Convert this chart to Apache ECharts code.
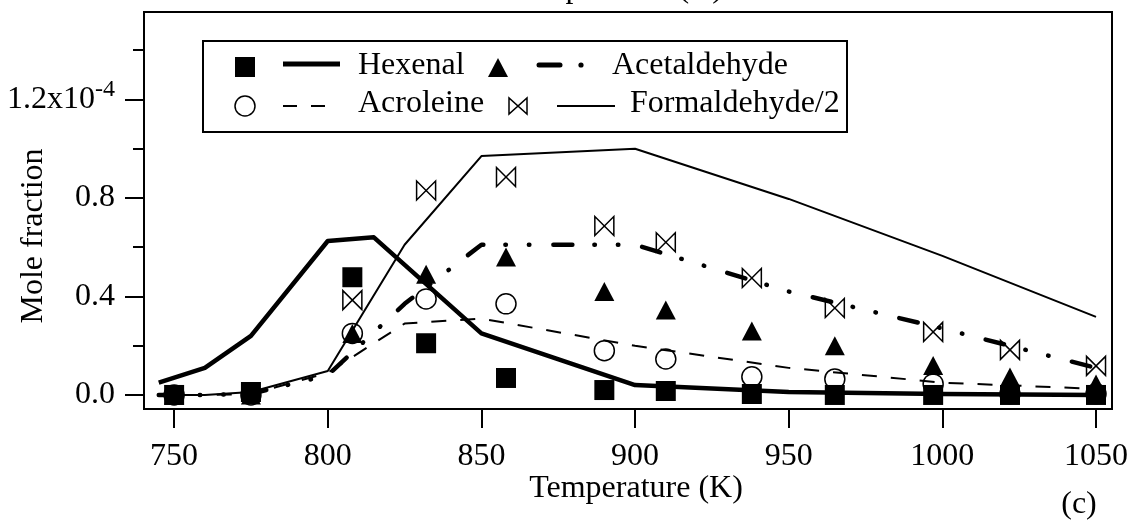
<!DOCTYPE html>
<html><head><meta charset="utf-8">
<script src="https://cdn.jsdelivr.net/npm/echarts@6/dist/echarts.min.js"></script>
<style>html,body{margin:0;padding:0;background:#fff}#c{width:1133px;height:522px}</style>
</head><body><div id="c"></div>
<script>
// Experimental points (mole fraction in units of 1e-4)
const expTemps      = [750, 775, 808, 832, 858, 890, 910, 938, 965, 997, 1022, 1050];
const hexenalExp    = [0.0, 0.012, 0.478, 0.21, 0.069, 0.02, 0.016, 0.004, 0.0, 0.0, 0.0, 0.0];
const acetaldExp    = [0.0, 0.0, 0.25, 0.49, 0.56, 0.42, 0.345, 0.26, 0.20, 0.12, 0.073, 0.045];
const acroleinExp   = [0.0, 0.0, 0.25, 0.39, 0.37, 0.18, 0.146, 0.074, 0.065, 0.045, 0.005, 0.005];
const formaldExp    = [null, null, 0.385, 0.83, 0.885, 0.686, 0.62, 0.475, 0.353, 0.256, 0.183, 0.118];

// Model curves
const hexenalModelT  = [745, 760, 775, 800, 815, 850, 900, 950, 1000, 1050];
const hexenalModel   = [0.05, 0.11, 0.24, 0.625, 0.64, 0.25, 0.04, 0.012, 0.004, 0.0];
const acetaldModelT  = [745, 760, 775, 800, 825, 850, 900, 950, 1000, 1050];
const acetaldModel   = [0.0, 0.0, 0.005, 0.08, 0.37, 0.61, 0.61, 0.42, 0.27, 0.11];
const acroleinModelT = [745, 760, 775, 800, 825, 850, 900, 950, 1000, 1050];
const acroleinModel  = [0.0, 0.0, 0.003, 0.09, 0.29, 0.31, 0.20, 0.11, 0.05, 0.025];
const formaldModelT  = [745, 760, 775, 800, 825, 850, 900, 950, 1000, 1050];
const formaldModel   = [0.0, 0.0, 0.012, 0.097, 0.61, 0.97, 1.0, 0.796, 0.565, 0.317];

const xTickValues  = [750, 800, 850, 900, 950, 1000, 1050];
const yMajorTicks  = [0, 0.4, 0.8, 1.2];
const yMinorTicks  = [0.2, 0.6, 1.0, 1.4];
const seriesNames  = ['Hexenal', 'Acetaldehyde', 'Acroleine', 'Formaldehyde/2'];
const xTitle = 'Temperature (K)';
const yTitle = 'Mole fraction';
const panelLabel = '(c)';

const FONT = 'Liberation Serif';
const zip = (xs, ys) => xs.map((x, i) => [x, ys[i]]).filter(p => p[1] !== null);

const bowtie = 'path://M0,0L0,10L10,0L10,10Z';

const chart = echarts.init(document.getElementById('c'), null, {renderer: 'canvas'});

const lineSeries = (name, xs, ys, width, type, cap) => ({
  name, type: 'line', data: zip(xs, ys), showSymbol: false, symbol: 'none',
  lineStyle: {color: '#000', width, type, cap: cap || 'butt', join: 'round', opacity: 1},
  silent: true, z: 2
});
const scatterSeries = (name, ys, symbol, size, filled, z) => ({
  name, type: 'scatter', data: zip(expTemps, ys), symbol, symbolSize: size,
  itemStyle: filled ? {color: '#000', opacity: 1} : {color: 'rgba(0,0,0,0)', borderColor: '#000', borderWidth: 1.5, opacity: 1},
  silent: true, z
});

const option = {
  animation: false,
  backgroundColor: '#fff',
  grid: {left: 144, right: 21, top: 12, bottom: 113, show: true, borderColor: '#000', borderWidth: 2, backgroundColor: 'transparent'},
  xAxis: {
    type: 'value', min: 740.2, max: 1055.2,
    axisLine: {show: true, onZero: false, lineStyle: {color: '#000', width: 2}},
    axisTick: {show: true, length: 19, lineStyle: {color: '#000', width: 2}, customValues: xTickValues},
    axisLabel: {customValues: xTickValues, color: '#000', fontFamily: FONT, fontSize: 32, margin: 32, formatter: v => String(v)},
    splitLine: {show: false}
  },
  yAxis: [{
    type: 'value', min: -0.057, max: 1.555,
    axisLine: {show: true, onZero: false, lineStyle: {color: '#000', width: 2}},
    axisTick: {show: true, length: 19, lineStyle: {color: '#000', width: 2}, customValues: yMajorTicks},
    axisLabel: {
      customValues: yMajorTicks, color: '#000', fontFamily: FONT, fontSize: 32, margin: 29,
      formatter: v => Math.abs(v - 1.2) < 1e-9 ? '{a|1.2x10}{s|-4}' : v.toFixed(1),
      rich: {
        a: {fontFamily: FONT, fontSize: 32, color: '#000', lineHeight: 44},
        s: {fontFamily: FONT, fontSize: 24, color: '#000', verticalAlign: 'top', lineHeight: 20}
      }
    },
    splitLine: {show: false}
  }, {
    type: 'value', min: -0.057, max: 1.555, position: 'left',
    axisLine: {show: false, onZero: false},
    axisTick: {show: true, length: 11, lineStyle: {color: '#000', width: 2}, customValues: yMinorTicks},
    axisLabel: {show: false},
    splitLine: {show: false}
  }],
  series: [
    lineSeries(seriesNames[3], formaldModelT, formaldModel, 2, 'solid'),
    lineSeries(seriesNames[2], acroleinModelT, acroleinModel, 2, [15, 14]),
    lineSeries(seriesNames[1], acetaldModelT, acetaldModel, 4.5, [19, 22, 0.5, 23, 0.5, 24], 'round'),
    lineSeries(seriesNames[0], hexenalModelT, hexenalModel, 4.5, 'solid'),
    scatterSeries(seriesNames[2], acroleinExp, 'circle', 20, false, 3),
    scatterSeries(seriesNames[3], formaldExp, bowtie, [19, 19], false, 4),
    scatterSeries(seriesNames[1], acetaldExp, 'triangle', [20, 19], true, 5),
    scatterSeries(seriesNames[0], hexenalExp, 'rect', 20, true, 6)
  ],
  graphic: [
    // legend box
    {type: 'rect', shape: {x: 203, y: 41, width: 644, height: 91}, style: {fill: '#fff', stroke: '#000', lineWidth: 2}, z: 10},
    {type: 'rect', shape: {x: 235, y: 57, width: 20, height: 20}, style: {fill: '#000'}, z: 11},
    {type: 'line', shape: {x1: 283, y1: 64, x2: 340, y2: 64}, style: {stroke: '#000', lineWidth: 5}, z: 11},
    {type: 'text', x: 358, y: 66, style: {text: seriesNames[0], fontFamily: FONT, fontSize: 32, fill: '#000', textAlign: 'left', textVerticalAlign: 'middle'}, z: 11},
    {type: 'polygon', shape: {points: [[488, 77], [508, 77], [498, 58]]}, style: {fill: '#000'}, z: 11},
    {type: 'line', shape: {x1: 539, y1: 65, x2: 560, y2: 65}, style: {stroke: '#000', lineWidth: 5, lineCap: 'round'}, z: 11},
    {type: 'circle', shape: {cx: 581, cy: 65, r: 2.6}, style: {fill: '#000'}, z: 11},
    {type: 'text', x: 612, y: 66, style: {text: seriesNames[1], fontFamily: FONT, fontSize: 32, fill: '#000', textAlign: 'left', textVerticalAlign: 'middle'}, z: 11},
    {type: 'circle', shape: {cx: 245, cy: 106, r: 10}, style: {fill: 'none', stroke: '#000', lineWidth: 1.5}, z: 11},
    {type: 'line', shape: {x1: 283, y1: 106, x2: 330, y2: 106}, style: {stroke: '#000', lineWidth: 2, lineDash: [14, 14]}, z: 11},
    {type: 'text', x: 358, y: 104, style: {text: seriesNames[2], fontFamily: FONT, fontSize: 32, fill: '#000', textAlign: 'left', textVerticalAlign: 'middle'}, z: 11},
    {type: 'polygon', shape: {points: [[509, 98], [509, 114], [527, 98], [527, 114]]}, style: {fill: 'none', stroke: '#000', lineWidth: 1.5}, z: 11},
    {type: 'line', shape: {x1: 557, y1: 106, x2: 615, y2: 106}, style: {stroke: '#000', lineWidth: 2}, z: 11},
    {type: 'text', x: 630, y: 104, style: {text: seriesNames[3], fontFamily: FONT, fontSize: 32, fill: '#000', textAlign: 'left', textVerticalAlign: 'middle'}, z: 11},
    // titles
    {type: 'text', x: 616, y: -11, style: {text: xTitle, fontFamily: FONT, fontSize: 32, fill: '#000', textAlign: 'center', textVerticalAlign: 'middle'}, z: 11},
    {type: 'text', x: 636, y: 489, style: {text: xTitle, fontFamily: FONT, fontSize: 32, fill: '#000', textAlign: 'center', textVerticalAlign: 'middle'}, z: 11},
    {type: 'text', x: 1079, y: 505, style: {text: panelLabel, fontFamily: FONT, fontSize: 32, fill: '#000', textAlign: 'center', textVerticalAlign: 'middle'}, z: 11},
    {type: 'text', x: 34, y: 236, rotation: Math.PI / 2, style: {text: yTitle, fontFamily: FONT, fontSize: 32, fill: '#000', textAlign: 'center', textVerticalAlign: 'middle'}, z: 11}
  ]
};
chart.setOption(option);
</script>
</body></html>
